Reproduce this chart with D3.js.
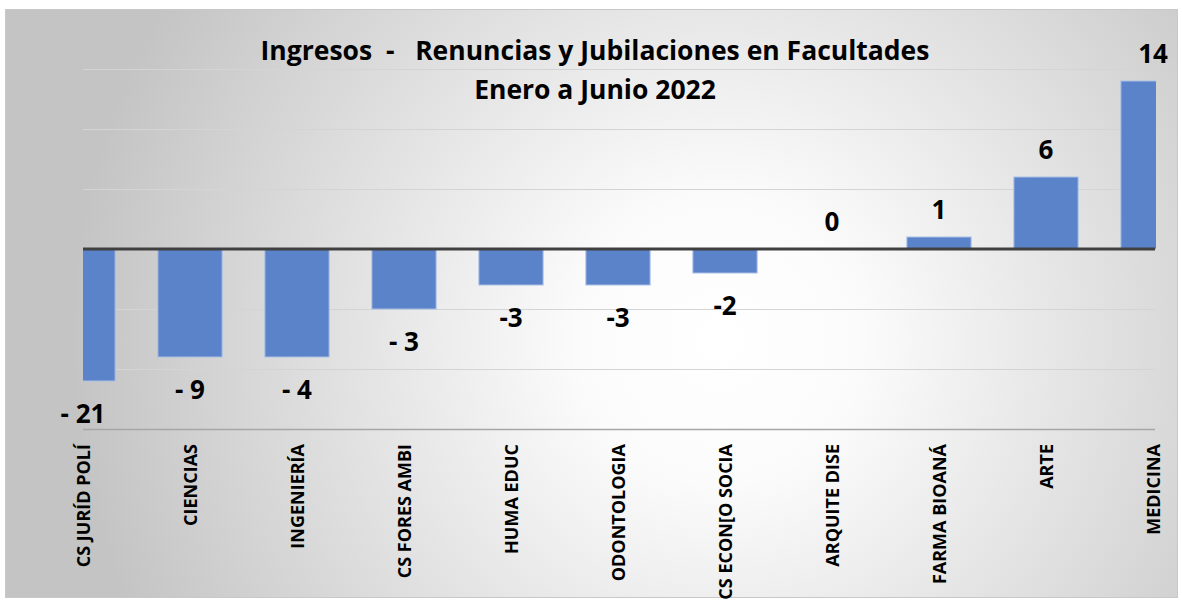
<!DOCTYPE html>
<html><head><meta charset="utf-8">
<script src="https://cdn.jsdelivr.net/npm/d3@7"></script>
<style>html,body{margin:0;padding:0;background:#fff;}svg{display:block;}</style>
</head><body>
<svg id="c" width="1182" height="602"></svg>
<script>
const categories = ["CS JURÍD POLÍ","CIENCIAS","INGENIERÍA","CS FORES AMBI","HUMA EDUC","ODONTOLOGIA","CS ECON[O SOCIA","ARQUITE DISE","FARMA BIOANÁ","ARTE","MEDICINA"];
const barValues = [-11, -9, -9, -5, -3, -3, -2, 0, 1, 6, 14];
const labelTexts = ["- 21","- 9","- 4","- 3","-3","-3","-2","0","1","6","14"];
const gridTicks = [-15, -10, -5, 0, 5, 10, 15];
const titleLines = ["Ingresos  -   Renuncias y Jubilaciones en Facultades", "Enero a Junio 2022"];

const svg = d3.select("#c");
const defs = svg.append("defs");
const rg = defs.append("radialGradient").attr("id","bg")
  .attr("gradientUnits","userSpaceOnUse").attr("cx",720).attr("cy",340).attr("r",650);
rg.append("stop").attr("offset","0").attr("stop-color","#ffffff");
rg.append("stop").attr("offset","0.22").attr("stop-color","#fbfbfb");
rg.append("stop").attr("offset","1").attr("stop-color","#c4c4c4");

svg.append("rect").attr("x",5.5).attr("y",9.5).attr("width",1172).attr("height",588)
  .attr("fill","url(#bg)").attr("stroke","#c8c8c8").attr("stroke-width",1);

const plotL = 83, plotR = 1156;
const x = d3.scaleBand().domain(categories).range([29.5, 1206.5]).paddingInner(0.4).paddingOuter(0.2);
const y = d3.scaleLinear().domain([-15, 15]).range([429, 69]);

defs.append("clipPath").attr("id","clip").append("rect")
  .attr("x",plotL).attr("y",0).attr("width",plotR-plotL).attr("height",602);

// gridlines
svg.append("g").selectAll("line").data(gridTicks.filter(d=>d!==0)).join("line")
  .attr("x1",plotL).attr("x2",1155).attr("y1",d=>Math.round(y(d))+0.5).attr("y2",d=>Math.round(y(d))+0.5)
  .attr("stroke",d=>d===-15?"#a6a6a6":"#d4d4d4").attr("stroke-width",d=>d===-15?1.5:1);

// bars
svg.append("g").attr("clip-path","url(#clip)").selectAll("rect").data(barValues).join("rect")
  .attr("x",(d,i)=>x(categories[i]))
  .attr("width",x.bandwidth())
  .attr("y",d=>y(Math.max(0,d)))
  .attr("height",d=>Math.abs(y(d)-y(0)))
  .attr("fill","#5b83c9").attr("stroke","#a9bfe6").attr("stroke-width",1);

// zero line
svg.append("line").attr("x1",plotL).attr("x2",1155).attr("y1",y(0)).attr("y2",y(0))
  .attr("stroke","#404040").attr("stroke-width",3);

const cx = (i)=>x(categories[i]) + x.bandwidth()/2;
const labelFont = "'Open Sans', Lato, sans-serif";

// value labels
svg.append("g").selectAll("text").data(barValues).join("text")
  .attr("x",(d,i)=>Math.min(cx(i),1155))
  .attr("y",d=> d<0 ? y(d)+33 : y(d)-27)
  .attr("dy","0.36em")
  .attr("text-anchor","middle")
  .attr("font-family",labelFont).attr("font-weight","bold").attr("font-size",26)
  .attr("fill","#000")
  .text((d,i)=>labelTexts[i]);

// category labels
svg.append("g").selectAll("text").data(categories).join("text")
  .attr("transform",(d,i)=>`translate(${Math.min(cx(i),1155)+6.5},444) rotate(-90)`)
  .attr("text-anchor","end")
  .attr("font-family",labelFont).attr("font-weight","bold").attr("font-size",18)
  .attr("fill","#000")
  .text(d=>d);

// title
svg.append("g").selectAll("text").data(titleLines).join("text")
  .attr("x",595).attr("y",(d,i)=>60+i*39)
  .attr("text-anchor","middle")
  .attr("font-family",labelFont).attr("font-weight","bold").attr("font-size",26.5)
  .attr("fill","#000").attr("xml:space","preserve").style("white-space","pre")
  .text(d=>d);
</script>
</body></html>
